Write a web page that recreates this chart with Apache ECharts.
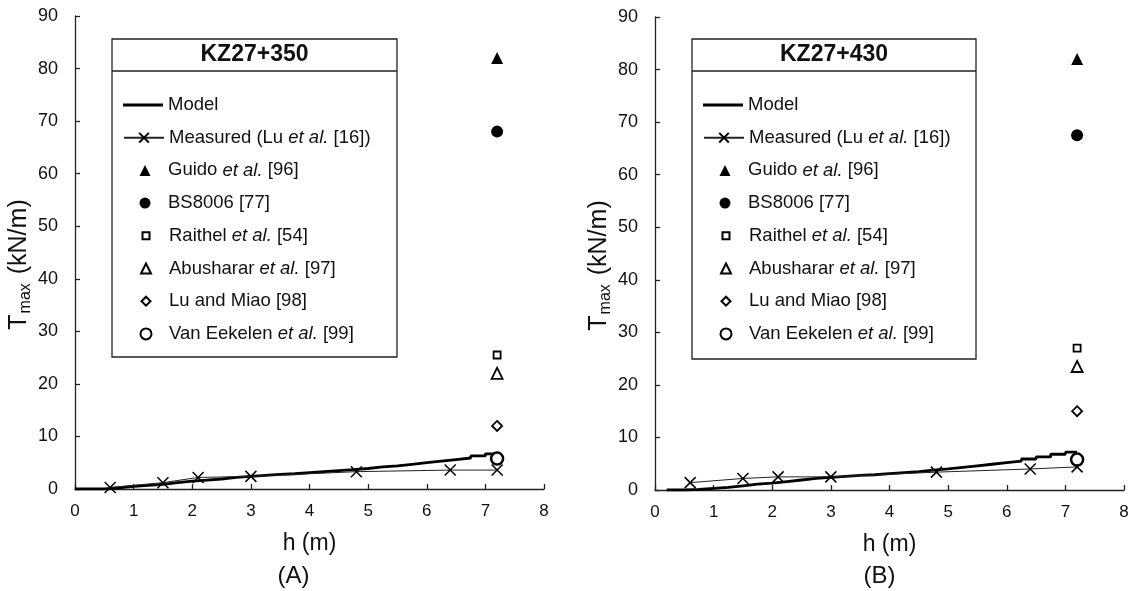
<!DOCTYPE html>
<html>
<head>
<meta charset="utf-8">
<script src="https://cdn.jsdelivr.net/npm/echarts@6/dist/echarts.min.js"></script>
<style>
html,body{margin:0;padding:0;background:#fff;}
#main{width:1132px;height:591px;}
</style>
</head>
<body>
<div id="main"></div>
<script>
// ---- data ----
const xTicks = [0,1,2,3,4,5,6,7,8];
const yTicks = [0,10,20,30,40,50,60,70,80,90];

const modelAx = [0,0.25,0.5,0.75,1.0,1.25,1.5,1.75,2.0,2.25,2.5,2.75,3.0,3.25,3.5,3.75,4.0,4.25,4.5,4.75,5.0,5.25,5.5,5.75,6.0,6.25,6.5,6.75,7.0,7.2];
const modelAy = [0,0,0,0.2,0.5,0.7,0.9,1.2,1.5,1.7,1.9,2.2,2.4,2.6,2.8,2.9,3.1,3.3,3.5,3.7,3.9,4.2,4.4,4.7,5.0,5.3,5.6,5.9,6.3,6.7];

const modelBx = [0.2,0.5,0.75,1.0,1.25,1.5,1.75,2.0,2.25,2.5,2.75,3.0,3.25,3.5,3.75,4.0,4.25,4.5,4.75,5.0,5.25,5.5,5.75,6.0,6.25,6.5,6.75,7.0,7.2];
const modelBy = [0,0,0.1,0.3,0.5,0.8,1.1,1.3,1.6,1.9,2.2,2.4,2.6,2.8,2.9,3.1,3.3,3.5,3.8,4.0,4.3,4.6,4.9,5.2,5.5,5.9,6.3,6.8,7.2];

const measX = [0.6,1.5,2.1,3.0,4.8,6.4,7.2];
const measAy = [0.3,1.2,2.2,2.4,3.3,3.6,3.6];
const measBy = [1.4,2.2,2.5,2.5,3.4,4.0,4.4];

const methodNames = ['Guido et al. [96]','BS8006 [77]','Raithel et al. [54]','Abusharar et al. [97]','Lu and Miao [98]','Van Eekelen et al. [99]'];
const methodX = 7.2;
const methodAy = [82,68,25.5,22,12,5.8];
const methodBy = [82,67.5,27,23.5,15,5.8];

const modelName = 'Model';
const measName = 'Measured (Lu et al. [16])';
const titles = ['KZ27+350','KZ27+430'];
const panelLabels = ['(A)','(B)'];

// ---- chart ----
const FONT = '"Liberation Sans", Arial, sans-serif';
const chart = echarts.init(document.getElementById('main'));

const grids = [
  {left:75, top:16, width:469, height:473},
  {left:655, top:17, width:469, height:473}
];

const xMark = 'path://M0,0L10,10M10,0L0,10';
const methodSymbols = [
  {symbol:'triangle', size:12, lsize:11, fill:'#000', bw:0},
  {symbol:'circle', size:12, lsize:11, fill:'#000', bw:0},
  {symbol:'rect', size:7, lsize:7, fill:'#fff', bw:1.8},
  {symbol:'triangle', size:11, lsize:10, fill:'#fff', bw:1.8},
  {symbol:'diamond', size:10, lsize:9, fill:'#fff', bw:1.8},
  {symbol:'circle', size:12, lsize:11, fill:'#fff', bw:2.5}
];

function zip(a,b){return a.map((v,i)=>[v,b[i]]);}

const series = [];
const legends = [];
const graphics = [];
const LH = 22;
function legendText(padLeft){
  return {fontFamily:FONT, fontSize:18.5, color:'#111', lineHeight:LH, padding:[0,0,0,padLeft],
    rich:{i:{fontFamily:FONT, fontSize:18.5, fontStyle:'italic', color:'#111', lineHeight:LH}}};
}
function fmt(name){ return name.replace('et al.', '{i|et al.}'); }

[[modelAx,modelAy,measAy,methodAy],[modelBx,modelBy,measBy,methodBy]].forEach((d,gi)=>{
  series.push({
    name: modelName, type:'line', xAxisIndex:gi, yAxisIndex:gi,
    data: zip(d[0],d[1]), step:'start', symbol:'none', showSymbol:false,
    lineStyle:{color:'#000', width:2.8}, itemStyle:{color:'#000'}, z:3, animation:false
  });
  series.push({
    name: measName, type:'line', xAxisIndex:gi, yAxisIndex:gi,
    data: zip(measX,d[2]), symbol:xMark, symbolSize:11,
    lineStyle:{color:'#222', width:1},
    itemStyle:{color:'none', borderColor:'#000', borderWidth:1.5}, z:4, animation:false
  });
  methodNames.forEach((n,k)=>{
    const s = methodSymbols[k];
    series.push({
      name:n, type:'scatter', xAxisIndex:gi, yAxisIndex:gi,
      data:[[methodX, d[3][k]]], symbol:s.symbol, symbolSize:s.size,
      itemStyle:{color:s.fill, borderColor:'#000', borderWidth:s.bw, opacity:1}, z:5, animation:false
    });
  });
  const g = grids[gi];
  const bx = gi===0 ? 112 : 692;
  const bw = gi===0 ? 285 : 284;
  const bh = gi===0 ? 318 : 320;
  const lineLeft = bx + 11;
  const symC = bx + 33;
  const textX = bx + 56;
  const rowY = k => 105 + 32.7*k;
  legends.push({
    orient:'vertical', left:lineLeft, top:rowY(0)-LH/2, padding:0, itemWidth:textX-5-lineLeft, itemHeight:3,
    selectedMode:false, data:[{name:modelName, icon:'rect', itemStyle:{color:'#000'}}],
    textStyle:legendText(0), formatter:fmt
  });
  legends.push({
    orient:'vertical', left:lineLeft, top:rowY(1)-LH/2, padding:0, itemWidth:textX-5-lineLeft, itemHeight:12,
    selectedMode:false, data:[measName],
    textStyle:legendText(0), formatter:fmt
  });
  methodNames.forEach((n,k)=>{
    const s = methodSymbols[k];
    const w = s.lsize;
    legends.push({
      orient:'vertical', left:symC - w/2, top:rowY(k+2)-LH/2, padding:0, itemWidth:w, itemHeight:w,
      selectedMode:false, data:[n],
      textStyle:legendText(textX - (symC + w/2 + 5)), formatter:fmt
    });
  });
  graphics.push({type:'rect', shape:{x:bx, y:39, width:bw, height:bh}, style:{fill:null, stroke:'#222', lineWidth:1.3}, z:10});
  graphics.push({type:'line', shape:{x1:bx, y1:71, x2:bx+bw, y2:71}, style:{stroke:'#222', lineWidth:1.3}, z:10});
  graphics.push({type:'text', x: bx+bw/2, y:55, style:{text:titles[gi], font:'bold 23px '+FONT, fill:'#111', textAlign:'center', textVerticalAlign:'middle'}, z:10});
  graphics.push({type:'text', x: g.left + g.width/2 - (gi===0?16:10), y:576, style:{text:panelLabels[gi], font:'24px '+FONT, fill:'#111', textAlign:'center', textVerticalAlign:'middle'}, z:10});
});

const axisLine = {show:true, lineStyle:{color:'#222', width:1.3}};
const option = {
  backgroundColor:'#fff',
  animation:false,
  grid: grids,
  legend: legends,
  xAxis: grids.map((g,i)=>({
    type:'value', gridIndex:i, min:xTicks[0], max:xTicks[xTicks.length-1], interval:1,
    name:'h (m)', nameLocation:'middle', nameGap:43,
    nameTextStyle:{fontFamily:FONT, fontSize:23, color:'#111'},
    axisLine:axisLine, axisTick:{show:true, inside:true, length:5, lineStyle:{color:'#222', width:1.3}},
    axisLabel:{fontFamily:FONT, fontSize:17, color:'#111', margin:14},
    splitLine:{show:false}
  })),
  yAxis: grids.map((g,i)=>({
    type:'value', gridIndex:i, min:yTicks[0], max:yTicks[yTicks.length-1], interval:10,
    name:'{t|T}{s|max}{t| (kN/m)}', nameLocation:'middle', nameGap:37, nameRotate:90,
    nameTextStyle:{fontFamily:FONT, fontSize:25, color:'#111', padding:[0,24,0,0],
      rich:{t:{fontFamily:FONT, fontSize:25, color:'#111', lineHeight:30},
            s:{fontFamily:FONT, fontSize:16, color:'#111', verticalAlign:'bottom', lineHeight:16, padding:[0,2,0,1]}}},
    axisLine:axisLine, axisTick:{show:true, inside:true, length:5, lineStyle:{color:'#222', width:1.3}},
    axisLabel:{fontFamily:FONT, fontSize:18, color:'#111', margin:17},
    splitLine:{show:false}
  })),
  series: series,
  graphic: graphics
};
chart.setOption(option);
</script>
</body>
</html>
